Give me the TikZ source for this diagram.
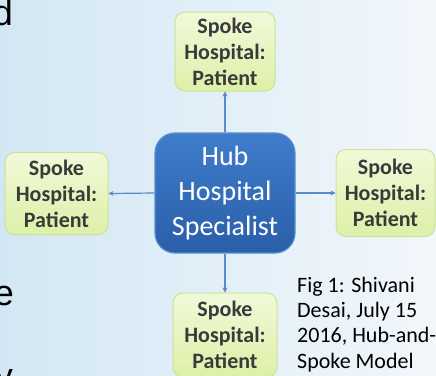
\documentclass[tikz,border=0pt]{standalone}
\usepackage{fontspec}
\setmainfont{Carlito}
\newfontfamily\arialfont{Liberation Sans}
\usetikzlibrary{arrows.meta}
\definecolor{bgA}{HTML}{D2E7F4}
\definecolor{bgB}{HTML}{F2F7FB}
\definecolor{spokeTop}{HTML}{F1F9D9}
\definecolor{spokeBot}{HTML}{DDF0A8}
\definecolor{spokeLine}{HTML}{CCE394}
\definecolor{hubTop}{HTML}{3F7DCB}
\definecolor{hubBot}{HTML}{2A5EA9}
\definecolor{hubLine}{HTML}{5A8ED0}
\definecolor{arrowC}{HTML}{5B8AC6}
\definecolor{spokeText}{HTML}{3A3A3A}
\tikzset{
  spokebox/.style={rectangle, rounded corners=10pt, draw=spokeLine, line width=1pt,
    top color=spokeTop, bottom color=spokeBot, align=center, text=spokeText,
    font=\bfseries\fontsize{22}{26}\selectfont, inner sep=0pt},
  hubbox/.style={rectangle, rounded corners=20pt, draw=hubLine, line width=1.2pt,
    top color=hubTop, bottom color=hubBot, align=center, text=white,
    font=\fontsize{28}{35}\selectfont, inner sep=0pt,
    minimum width=140pt, minimum height=120pt},
  arr/.style={draw=arrowC, line width=1.2pt, -{Stealth[length=5pt,width=5pt]}},
  caption/.style={align=left, font=\fontsize{22}{25.3}\selectfont, text=black, inner sep=0pt},
  edgeletter/.style={font=\arialfont\fontsize{36}{36}\selectfont, text=black, inner sep=0pt}
}
\begin{document}
\begin{tikzpicture}[x=1pt,y=-1pt]
\useasboundingbox (0,0) rectangle (436,375);
\clip (0,0) rectangle (436,375);
\shade[left color=bgA, right color=bgB] (0,0) rectangle (436,375);

% partial letters at the left edge
\node[edgeletter, anchor=base east] (ld) at (13,25) {d};
\node[edgeletter, anchor=base east] (le) at (14,305) {e};
\node[edgeletter, anchor=base east] (ly) at (13,388) {y};

% hub
\node[hubbox] (hub) at (225,193) {Hub\\Hospital\\Specialist};

% spokes
\node[spokebox, minimum width=100pt, minimum height=79pt] (top) at (225,51.5) {Spoke\\Hospital:\\Patient};
\node[spokebox, minimum width=103pt, minimum height=82pt] (left) at (56.5,193.5) {Spoke\\Hospital:\\Patient};
\node[spokebox, minimum width=99pt, minimum height=87pt] (right) at (385.5,193) {Spoke\\Hospital:\\Patient};
\node[spokebox, minimum width=104pt, minimum height=84pt] (bottom) at (225,335) {Spoke\\Hospital:\\Patient};

% connectors
\draw[arr] (hub.north) -- (top.south);
\draw[arr] (hub.west) -- (left.east);
\draw[arr] (hub.east) -- (right.west);
\draw[arr] (hub.south) -- (bottom.north);

% caption
\node[caption, anchor=base west] (cap) at (297,368) {Fig 1: Shivani\\Desai, July 15\\2016, Hub-and-\\Spoke Model};
\end{tikzpicture}
\end{document}
